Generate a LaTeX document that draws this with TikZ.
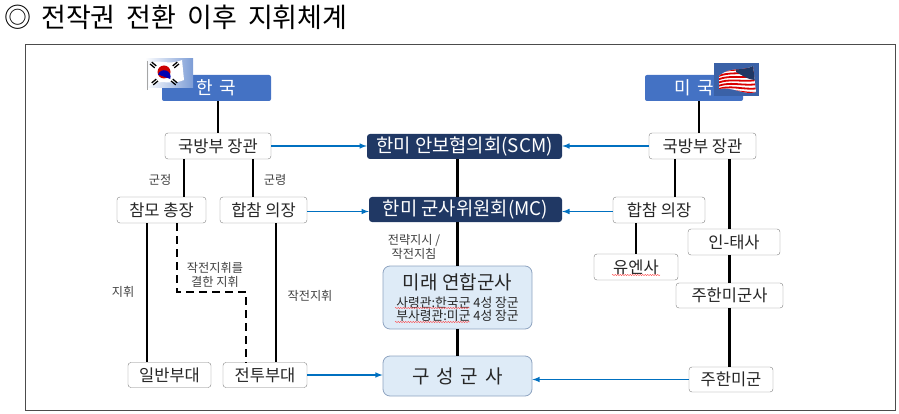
\documentclass[tikz,border=0pt]{standalone}
\usepackage{fontspec}
\setmainfont{Noto Sans CJK KR}
\newfontfamily\titlefont{Noto Sans CJK KR}
\usetikzlibrary{decorations.pathmorphing}
\usetikzlibrary{positioning}
\definecolor{nationblue}{HTML}{4472C4}
\definecolor{navyfill}{HTML}{203864}
\definecolor{arrowblue}{HTML}{0070C0}
\definecolor{paleblue}{HTML}{DEEBF7}
\definecolor{paleedge}{HTML}{8EA3C0}
\definecolor{labelgray}{HTML}{404040}
\definecolor{boxtext}{HTML}{262626}

\begin{document}
\begin{tikzpicture}[x=1pt, y=-1pt,
    nation/.style={fill=nationblue, text=white, rounded corners=2pt, minimum width=#1, minimum height=26pt, inner sep=0pt, font={\fontsize{18pt}{20pt}\selectfont}},
    office/.style={draw=black!50, fill=white, text=boxtext, rounded corners=3pt, minimum width=#1, minimum height=26pt, inner sep=0pt, font={\fontsize{16.5pt}{18pt}\selectfont}},
    council/.style={fill=navyfill, text=white, rounded corners=3pt, minimum width=#1, minimum height=25pt, inner sep=0pt, font={\fontsize{18.8pt}{20pt}\selectfont}},
    force/.style={draw=paleedge, fill=paleblue, rounded corners=7pt, line width=0.8pt, inner sep=0pt},
    tag/.style={text=labelgray, align=center, inner sep=0pt, font={\fontsize{12.2pt}{14pt}\selectfont}},
    link/.style={line width=2.1pt, black},
    feed/.style={-latex, arrowblue, line width=1.5pt},
    squiggle/.style={red!75, line width=0.4pt, decorate, decoration={snake, amplitude=0.6pt, segment length=2.5pt}}]
    \useasboundingbox (0,0) rectangle (899,414);

    % title and frame
    \node[anchor=west, inner sep=0pt, font={\titlefont\fontsize{27pt}{28pt}\selectfont}] (title) at (4,17) {◎\hspace{10pt}전작권\hspace{11pt}전환\hspace{11pt}이후\hspace{11pt}지휘체계};
    \draw[black!70, line width=1pt] (25,45) rectangle (895,410);

    % nations
    \node[nation=109pt] (kr) at (216.5,88) {한\hspace{6pt}국};
    \node[nation=98pt] (us) at (694,88) {미\hspace{6pt}국};

    % korean flag
    \shade[left color=white, right color=nationblue!70] (145,59) rectangle (193,88);
    \fill[white] (149,64) .. controls (158,58) and (168,66) .. (182,60) -- (184,80) .. controls (170,86) and (160,78) .. (149,86) -- cycle;
    \draw[black!35, line width=0.8pt] (147,61) -- (147,90);
    \fill[red!80!black] (164,72) circle (6.5);
    \fill[blue!70!black] (158,74.5) arc[start angle=200, end angle=380, radius=6.5] -- cycle;
    \foreach \cx/\cy/\ang in {154/64/-40, 175/64/40, 154/81/40, 175/81/-40}
        \draw[black, line width=1.3pt, rotate around={\ang:(\cx,\cy)}] (\cx-3,\cy) -- (\cx+3,\cy) (\cx-3,\cy+2.5) -- (\cx+3,\cy+2.5);

    % us flag
    \fill[nationblue!85!black] (714,63) rectangle (759,96);
    \begin{scope}
        \clip (719,76) .. controls (730,66) and (742,72) .. (753,66) -- (756,92) .. controls (745,96) and (732,86) .. (719,89) -- cycle;
        \fill[white] (714,63) rectangle (759,96);
        \foreach \i in {0,...,6}
            \draw[red!85!black, line width=1.8pt] (714,75+\i*3.2) .. controls (730,66+\i*3.4) and (742,73+\i*3.6) .. (760,66+\i*4.4);
        \fill[navyfill] (736,60) -- (760,60) -- (760,80) .. controls (750,80) .. (736,72) -- cycle;
    \end{scope}

    % ministers and councils
    \node[office=106pt] (kmnd) at (218,146) {국방부 장관};
    \node[office=107pt] (umnd) at (702.5,146) {국방부 장관};
    \node[council=195pt] (scm) at (464.5,146.5) {한미 안보협의회(SCM)};
    \node[council=193pt] (mc) at (465.5,209.5) {한미 군사위원회(MC)};

    % korean side
    \node[office=89pt] (kcs) at (161.5,210) {참모 총장};
    \node[office=87pt] (kjcs) at (263.5,210) {합참 의장};
    \node[office=83pt, minimum height=25pt] (gen) at (169.5,375) {일반부대};
    \node[office=84pt, minimum height=25pt] (cbt) at (265,375) {전투부대};

    % us side
    \node[office=92pt] (ujcs) at (659,210) {합참 의장};
    \node[office=92pt] (indo) at (734,242) {인-태사};
    \node[office=84pt] (unc) at (636,267) {유엔사};
    \node[office=107pt, minimum height=25pt] (usfk) at (729.5,295.5) {주한미군사};
    \node[office=84pt, minimum height=25pt] (usf) at (731,379.5) {주한미군};

    % combined forces
    \node[force, minimum width=149pt, minimum height=63pt] (fcc) at (457.5,297.5) {};
    \node[inner sep=0pt, text=boxtext, font={\fontsize{19pt}{20pt}\selectfont}] (fcctitle) at (457.5,282) {미래 연합군사};
    \node[inner sep=0pt, align=center, text=boxtext, font={\fontsize{12.8pt}{13.5pt}\selectfont}] (fccsub) at (457.5,309) {사령관:한국군 4성 장군\\부사령관:미군 4성 장군};
    \node[force, minimum width=149pt, minimum height=40pt, text=boxtext, font={\fontsize{19pt}{20pt}\selectfont}] (comp) at (457.5,376) {구\hspace{7pt}성\hspace{7pt}군\hspace{7pt}사};
    \draw[squiggle] (395,308) -- (470,308);
    \draw[squiggle] (395,322) -- (470,322);
    \draw[squiggle] (612,275) -- (660,275);

    % chain of command
    \draw[link] (kmnd.north |- kr.south) -- (kmnd.north);
    \draw[link] ([xshift=5pt]us.south) -- ([xshift=5pt]us.south |- umnd.north);
    \draw[link] ([xshift=22.5pt]kcs.north |- kmnd.south) -- ([xshift=22.5pt]kcs.north);
    \draw[link] ([xshift=-10.5pt]kjcs.north |- kmnd.south) -- ([xshift=-10.5pt]kjcs.north);
    \draw[link] ([xshift=-14.5pt]kcs.south) -- ([xshift=-14.5pt]kcs.south |- gen.north);
    \draw[link] ([xshift=12.5pt]kjcs.south) -- ([xshift=12.5pt]kjcs.south |- cbt.north);
    \draw[link, dash pattern=on 8pt off 5pt, line width=2.2pt] ([xshift=15.5pt]kcs.south) -- ++(0,69) -| ([xshift=-19pt]cbt.north);
    \draw[link] (scm.south -| fcc.north) -- (mc.north -| fcc.north);
    \draw[link] (mc.south -| fcc.north) -- (fcc.north);
    \draw[link] (fcc.south) -- (comp.north);
    \draw[link] ([xshift=16pt]ujcs.north |- umnd.south) -- ([xshift=16pt]ujcs.north);
    \draw[link] (ujcs.south -| unc.north) -- (unc.north);
    \draw[link] (umnd.south -| usfk.north) -- (indo.north -| usfk.north);
    \draw[link] (indo.south -| usfk.north) -- (usfk.north);
    \draw[link] (usfk.south) -- (usfk.south |- usf.north);

    % links to the councils
    \draw[feed] (kmnd.east) -- (kmnd.east -| scm.west);
    \draw[feed] (umnd.west) -- (umnd.west -| scm.east);
    \draw[feed] ([yshift=-1.5pt]kjcs.east) -- ([yshift=-1.5pt]kjcs.east -| mc.west);
    \draw[feed] ([yshift=-1.5pt]ujcs.east -| ujcs.west) -- ([yshift=-1.5pt]ujcs.east -| mc.east);
    \draw[feed] (cbt.east) -- (cbt.east -| comp.west);
    \draw[feed] (usf.west) -- (usf.west -| comp.east);

    % labels
    \node[tag] (lbpol) at (160,180) {군정};
    \node[tag] (lbops) at (275,180) {군령};
    \node[tag] (lbcmd) at (123,292) {지휘};
    \node[tag] (lbless) at (215,275) {작전지휘를\\결한 지휘};
    \node[tag] (lbopcmd) at (310,296) {작전지휘};
    \node[tag] (lbguide) at (414,246.5) {전략지시 /\\작전지침};
\end{tikzpicture}
\end{document}
